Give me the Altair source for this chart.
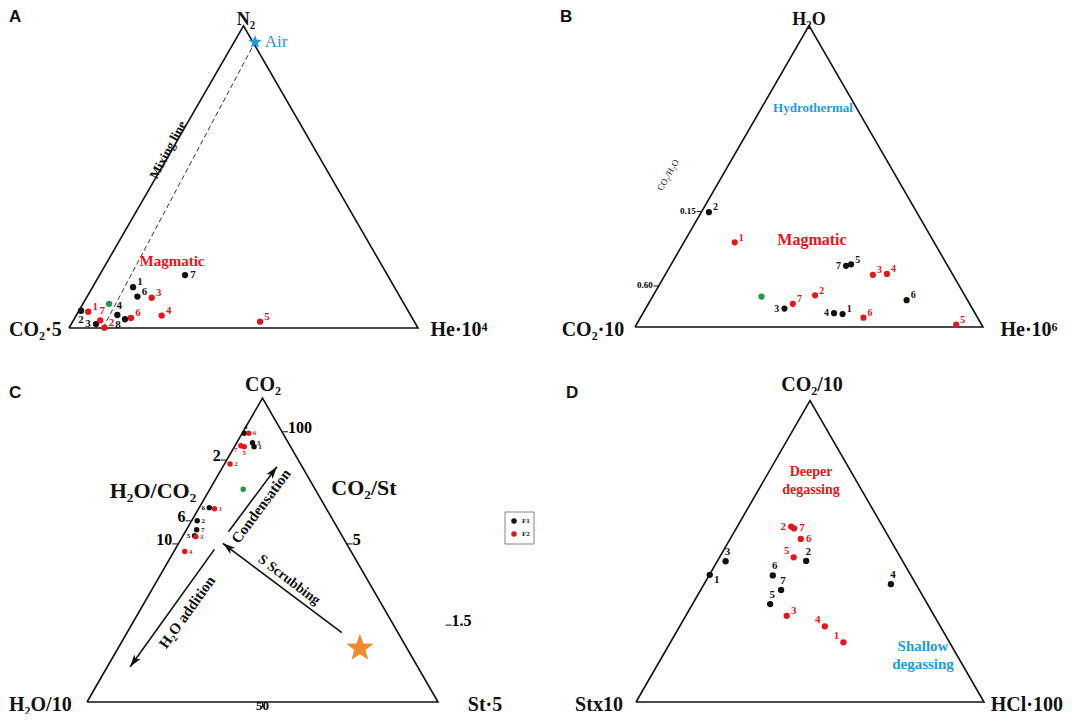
import math
import pandas as pd
import altair as alt

W, H = 1056, 706
SERIF = "Liberation Serif"
SANS = "Liberation Sans"
BLACK = "#111111"
RED = "#e8141b"
GREEN = "#1b9a48"
BLUE = "#1b9ddb"
ORANGE = "#f08a2b"

# ---------------- data: ternary compositions in % (top apex, right apex; left = rest) ----------------
# Panel A : N2 (top) - CO2*5 (left) - He*10^4 (right)
A_F1_label = ["1", "2", "3", "4", "6", "7", "8"]
A_F1_top = [13.5, 5.7, 1.3, 4.3, 10.4, 17.5, 2.9]
A_F1_right = [11.6, 0.6, 7.1, 11.7, 14.4, 24.5, 14.6]
A_F2_label = ["1", "2", "3", "4", "5", "6", "7"]
A_F2_top = [5.4, 0.1, 10.0, 4.1, 2.1, 3.3, 2.5]
A_F2_right = [2.8, 10.1, 18.7, 24.5, 53.7, 16.1, 7.7]
A_REF_top = [8.0]
A_REF_right = [7.5]
A_AIR_top = [94.6]
A_AIR_right = [6.0]
A_MIX_top = [94.6, 0.0]
A_MIX_right = [6.0, 9.7]

# Panel B : H2O (top) - CO2*10 (left) - He*10^6 (right)
B_F1_label = ["1", "2", "3", "4", "5", "6", "7"]
B_F1_top = [4.3, 38.1, 6.1, 4.6, 20.8, 8.9, 20.3]
B_F1_right = [57.5, 2.2, 39.9, 54.9, 51.7, 73.6, 50.5]
B_F2_label = ["1", "2", "3", "4", "5", "6", "7"]
B_F2_top = [28.1, 10.5, 17.3, 17.6, 0.8, 3.1, 7.7]
B_F2_right = [14.6, 46.5, 59.7, 63.6, 91.9, 64.1, 41.5]
B_REF_top = [10.1]
B_REF_right = [31.3]
B_TICK_label = ["0.15", "0.60"]
B_TICK_top = [38.3, 13.6]

# Panel C : CO2 (top) - H2O/10 (left) - St*5 (right)
C_F1_label = ["1", "2", "3", "4", "5", "6", "7"]
C_F1_top = [84.0, 59.6, 85.3, 88.4, 54.7, 63.9, 56.7]
C_F1_right = [5.6, 1.6, 4.5, 0.6, 3.3, 2.9, 2.9]
C_F2_label = ["1", "2", "3", "4", "5", "6", "7"]
C_F2_top = [63.6, 78.3, 54.4, 49.5, 84.0, 88.4, 84.3]
C_F2_right = [4.5, 1.6, 3.8, 3.1, 2.8, 1.9, 1.7]
C_REF_top = [70.0]
C_REF_right = [9.5]
C_STAR_top = [17.7]
C_STAR_right = [68.9]
C_LTICK_label = ["2", "6", "10"]          # H2O/CO2 on the left edge
C_LTICK_top = [79.6, 59.6, 52.0]
C_RTICK_label = ["100", "5", "1.5"]       # CO2/St on the right edge
C_RTICK_top = [88.9, 52.0, 25.3]
C_BTICK_label = ["50"]
C_BTICK_right = [50.0]
C_ARROW_name = ["Condensation", "S Scrubbing", "H2O addition"]
C_ARROW_top1 = [56.0, 22.8, 50.2]
C_ARROW_right1 = [12.3, 61.2, 11.2]
C_ARROW_top2 = [77.4, 52.2, 11.6]
C_ARROW_right2 = [15.4, 12.6, 6.5]

# Panel D : CO2/10 (top) - St*10 (left) - HCl*100 (right)
D_F1_label = ["1", "2", "3", "4", "5", "6", "7"]
D_F1_top = [42.2, 46.8, 46.7, 39.1, 32.5, 42.0, 37.2]
D_F1_right = [0.1, 25.5, 2.4, 53.7, 22.3, 18.3, 23.1]
D_F2_label = ["1", "2", "3", "4", "5", "6", "7"]
D_F2_top = [19.8, 58.2, 28.6, 25.1, 48.0, 54.1, 57.6]
D_F2_right = [49.7, 15.5, 29.0, 41.7, 21.3, 20.3, 16.6]

LEG_LABELS = ["F1", "F2"]

# ---------------- layout (not data) ----------------
# base-left vertex of each triangle in page pixels and side length
FRAME = {"A": (69, 328, 349), "B": (635, 327, 348), "C": (87, 702, 351), "D": (636, 702, 348)}
# horizontal gap (px) between the right edge of C and its tick marks
C_RTICK_gap = [0, 0, 52]
# label placement codes for the point numbers
A_F1_pos = ["ne", "s", "w", "n", "ne", "e", "sw"]
A_F2_pos = ["ne", "ne", "ne", "ne", "ne", "ne", "n"]
B_F1_pos = ["ne", "ne", "w", "w", "ne", "ne", "w"]
B_F2_pos = ["ne"] * 7
C_F1_pos = ["e", "e", "e", "n", "w", "w", "e"]
C_F2_pos = ["e", "e", "e", "e", "s", "e", "sw"]
D_F1_pos = ["se", "n", "n", "n", "n", "n", "n"]
D_F2_pos = ["nw", "w", "ne", "nw", "nw", "e", "e"]
OFF = {"ne": (7, -5), "e": (8, 0), "w": (-8, 0), "n": (2, -9), "s": (0, 9),
       "nw": (-7, -6), "se": (7, 5), "sw": (-7, 6)}

XS = alt.Scale(domain=[0, W], nice=False, zero=False)
YS = alt.Scale(domain=[0, H], nice=False, zero=False)
CSCALE = alt.Scale(domain=["F1", "F2", "ref"], range=[BLACK, RED, GREEN])


def tern(panel, t="datum.top", r="datum.right", nx="X", ny="Y"):
    bx, by, S = FRAME[panel]
    h = S * math.sqrt(3) / 2
    return {nx: f"{bx - 8} + {S}*(({r}) + ({t})/2)/100",
            ny: f"{714 - by} + {h:.3f}*({t})/100"}


def X(f):
    return alt.X(f"{f}:Q", scale=XS, axis=None)


def Y(f):
    return alt.Y(f"{f}:Q", scale=YS, axis=None)


def points_df(f1l, f1t, f1r, f1p, f2l, f2t, f2r, f2p, rt, rr, k):
    rows = []
    for lab, t, r, p in zip(f1l, f1t, f1r, f1p):
        rows.append(dict(top=t, right=r, group="F1", label=lab, dx=OFF[p][0] * k, dy=OFF[p][1] * k))
    for lab, t, r, p in zip(f2l, f2t, f2r, f2p):
        rows.append(dict(top=t, right=r, group="F2", label=lab, dx=OFF[p][0] * k, dy=OFF[p][1] * k))
    for t, r in zip(rt, rr):
        rows.append(dict(top=t, right=r, group="ref", label="", dx=0, dy=0))
    return pd.DataFrame(rows)


def panel_layers(panel, df, dot, fs):
    layers = []
    tri = pd.DataFrame({"top": [0, 0, 100, 0], "right": [0, 100, 0, 0], "k": [0, 1, 2, 3]})
    layers.append(alt.Chart(tri).transform_calculate(**tern(panel)).mark_line(
        color=BLACK, strokeWidth=1.6).encode(x=X("X"), y=Y("Y"), order="k:Q"))
    base = alt.Chart(df).transform_calculate(**tern(panel))
    layers.append(base.transform_filter("datum.label != ''").transform_calculate(
        LX="datum.X + datum.dx", LY="datum.Y - datum.dy").mark_text(
        font=SERIF, fontWeight="bold", fontSize=fs).encode(
        x=X("LX"), y=Y("LY"), text="label:N",
        color=alt.Color("group:N", scale=CSCALE, legend=None)))
    layers.append(base.mark_circle(size=dot, opacity=1).encode(
        x=X("X"), y=Y("Y"), color=alt.Color("group:N", scale=CSCALE, legend=None)))
    return layers


def note(text, x, y, size, color=BLACK, angle=0, font=SERIF, weight="bold", align="center"):
    kw = dict(font=font, fontSize=size, fontWeight=weight, color=color, align=align)
    if angle:
        kw["angle"] = angle
    return alt.Chart(pd.DataFrame({"t": [text]})).mark_text(**kw).encode(
        text="t:N", x=alt.value(x - 8), y=alt.value(y - 8))


def star_path(inner=0.42):
    pts = []
    for i in range(10):
        a = math.radians(-90 + 36 * i)
        rr = 1 if i % 2 == 0 else inner
        pts.append(f"{rr * math.cos(a):.3f},{rr * math.sin(a):.3f}")
    return "M" + " L".join(pts) + " Z"


STAR = star_path()
ARROW = "M0,0 L-0.6,1.9 L0,1.45 L0.6,1.9 Z"

layers = []

# ---------------- Panel A ----------------
dfA = points_df(A_F1_label, A_F1_top, A_F1_right, A_F1_pos, A_F2_label, A_F2_top, A_F2_right, A_F2_pos,
                A_REF_top, A_REF_right, 1.0)
mix = pd.DataFrame({"top": A_MIX_top, "right": A_MIX_right})
layers.append(alt.Chart(mix).transform_calculate(**tern("A")).mark_line(
    color="#333333", strokeWidth=1, strokeDash=[5, 3]).encode(x=X("X"), y=Y("Y")))
layers += panel_layers("A", dfA, 40, 11)
air = pd.DataFrame({"top": A_AIR_top, "right": A_AIR_right})
layers.append(alt.Chart(air).transform_calculate(**tern("A")).mark_point(
    shape=STAR, filled=True, size=200, color=BLUE, opacity=1).encode(x=X("X"), y=Y("Y")))

# ---------------- Panel B ----------------
dfB = points_df(B_F1_label, B_F1_top, B_F1_right, B_F1_pos, B_F2_label, B_F2_top, B_F2_right, B_F2_pos,
                B_REF_top, B_REF_right, 0.95)
layers += panel_layers("B", dfB, 38, 10)
tB = pd.DataFrame({"top": B_TICK_top, "label": B_TICK_label, "right": [0] * len(B_TICK_top)})
bB = alt.Chart(tB).transform_calculate(**tern("B")).transform_calculate(X2="datum.X - 5", LX="datum.X - 6")
layers.append(bB.mark_rule(color=BLACK, strokeWidth=1).encode(x=X("X"), x2="X2:Q", y=Y("Y")))
layers.append(bB.mark_text(font=SERIF, fontWeight="bold", fontSize=9, align="right", dy=-1).encode(
    x=X("LX"), y=Y("Y"), text="label:N"))

# ---------------- Panel C ----------------
dfC = points_df(C_F1_label, C_F1_top, C_F1_right, C_F1_pos, C_F2_label, C_F2_top, C_F2_right, C_F2_pos,
                C_REF_top, C_REF_right, 0.75)
layers += panel_layers("C", dfC, 30, 7)
tL = pd.DataFrame({"top": C_LTICK_top, "label": C_LTICK_label, "right": [0] * 3})
bL = alt.Chart(tL).transform_calculate(**tern("C")).transform_calculate(X2="datum.X - 6", LX="datum.X - 6")
layers.append(bL.mark_rule(color=BLACK, strokeWidth=1).encode(x=X("X"), x2="X2:Q", y=Y("Y")))
layers.append(bL.mark_text(font=SERIF, fontWeight="bold", fontSize=16, align="right", dy=-4).encode(
    x=X("LX"), y=Y("Y"), text="label:N"))
tR = pd.DataFrame({"top": C_RTICK_top, "label": C_RTICK_label, "gap": C_RTICK_gap})
bR = (alt.Chart(tR).transform_calculate(right="100 - datum.top").transform_calculate(**tern("C"))
      .transform_calculate(X1="datum.X + datum.gap")
      .transform_calculate(X2="datum.X1 + 6", LX="datum.X1 + 6"))
layers.append(bR.mark_rule(color=BLACK, strokeWidth=1).encode(x=X("X1"), x2="X2:Q", y=Y("Y")))
layers.append(bR.mark_text(font=SERIF, fontWeight="bold", fontSize=16, align="left", dy=-4).encode(
    x=X("LX"), y=Y("Y"), text="label:N"))
tBm = pd.DataFrame({"right": C_BTICK_right, "label": C_BTICK_label, "top": [0]})
bBm = alt.Chart(tBm).transform_calculate(**tern("C")).transform_calculate(Y2="datum.Y - 5")
layers.append(bBm.mark_rule(color=BLACK, strokeWidth=1).encode(x=X("X"), y=Y("Y"), y2="Y2:Q"))
layers.append(bBm.mark_text(font=SERIF, fontWeight="bold", fontSize=13, baseline="bottom", dy=11).encode(
    x=X("X"), y=Y("Y"), text="label:N"))
arr = pd.DataFrame({"name": C_ARROW_name, "t1": C_ARROW_top1, "r1": C_ARROW_right1,
                    "t2": C_ARROW_top2, "r2": C_ARROW_right2})
bA = (alt.Chart(arr)
      .transform_calculate(**tern("C", "datum.t1", "datum.r1", "X1", "Y1"))
      .transform_calculate(**tern("C", "datum.t2", "datum.r2", "X2", "Y2"))
      .transform_calculate(ANG="(atan2(datum.X2 - datum.X1, datum.Y2 - datum.Y1) * 180 / PI + 360) % 360"))
layers.append(bA.mark_rule(color=BLACK, strokeWidth=1.6).encode(
    x=X("X1"), y=Y("Y1"), x2="X2:Q", y2="Y2:Q"))
layers.append(bA.mark_point(shape=ARROW, filled=True, size=170, color=BLACK, opacity=1).encode(
    x=X("X2"), y=Y("Y2"), angle=alt.Angle("ANG:Q", scale=None)))
st = pd.DataFrame({"top": C_STAR_top, "right": C_STAR_right})
layers.append(alt.Chart(st).transform_calculate(**tern("C")).mark_point(
    shape=STAR, filled=True, size=800, color=ORANGE, opacity=1).encode(x=X("X"), y=Y("Y")))

# ---------------- Panel D ----------------
dfD = points_df(D_F1_label, D_F1_top, D_F1_right, D_F1_pos, D_F2_label, D_F2_top, D_F2_right, D_F2_pos,
                [], [], 1.0)
layers += panel_layers("D", dfD, 40, 11)

# ---------------- texts ----------------
VS = 20
layers += [
    note("A", 9, 17, 17, font=SANS, align="left"),
    note("B", 560, 17, 17, font=SANS, align="left"),
    note("C", 9, 393, 17, font=SANS, align="left"),
    note("D", 566, 393, 17, font=SANS, align="left"),
    note("N₂", 246, 19.5, 18),
    note("CO₂·5", 9, 330, VS, align="left"),
    note("He·10⁴", 459, 330, VS),
    note("Air", 276, 42, 17, color=BLUE, weight="normal"),
    note("Mixing line", 168, 150, 13, angle=298),
    note("Magmatic", 172, 261, 15, color=RED),
    note("H₂O", 809, 19.5, 18),
    note("CO₂·10", 593, 330, VS),
    note("He·10⁶", 1029, 330, VS),
    note("Hydrothermal", 813, 108, 13, color=BLUE),
    note("Magmatic", 812, 240, 16, color=RED),
    note("CO₂/H₂O", 668, 175, 9, angle=300, weight="normal"),
    note("CO₂", 263, 385, VS),
    note("H₂O/10", 9, 705, VS, align="left"),
    note("St·5", 485, 705, VS),
    note("H₂O/CO₂", 153, 491, 22),
    note("CO₂/St", 364, 488, 22),
    note("Condensation", 261, 506, 15, angle=306.7),
    note("S Scrubbing", 289, 580, 14, angle=36.9),
    note("H₂O addition", 187, 612, 15, angle=305.7),
    note("CO₂/10", 812, 385, VS),
    note("Stx10", 599, 705, VS),
    note("HCl·100", 1063, 705, VS, align="right"),
    note("Deeper", 811, 472, 14, color=RED),
    note("degassing", 811, 490, 14, color=RED),
    note("Shallow", 923, 646, 15, color=BLUE),
    note("degassing", 923, 664, 15, color=BLUE),
]

# ---------------- legend box ----------------
layers.append(alt.Chart(pd.DataFrame({"a": [0]})).mark_rect(
    fill="white", stroke="#666666", strokeWidth=0.8).encode(
    x=alt.value(505 - 8), x2=alt.value(534 - 8), y=alt.value(512 - 8), y2=alt.value(544 - 8)))
for i, (lab, col) in enumerate(zip(LEG_LABELS, [BLACK, RED])):
    yy = 521 + 13 * i
    layers.append(alt.Chart(pd.DataFrame({"a": [0]})).mark_circle(size=30, color=col, opacity=1).encode(
        x=alt.value(514 - 8), y=alt.value(yy - 8)))
    layers.append(note(lab, 522, yy, 7, align="left"))

chart = alt.layer(*layers).properties(
    width=W, height=H, padding=0, autosize=alt.AutoSizeParams(type="none")
).configure_view(stroke=None)

chart.save("out.html", embed_options={"renderer": "svg", "actions": False})
